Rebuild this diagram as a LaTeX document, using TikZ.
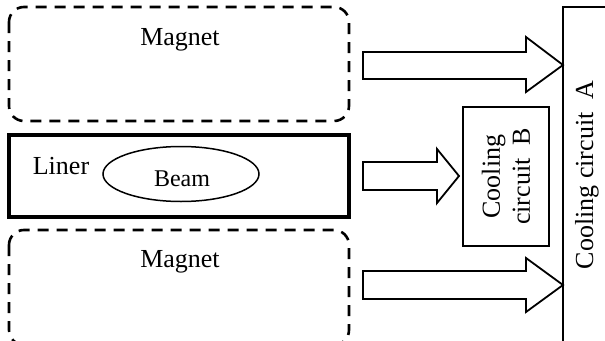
\documentclass[tikz,border=0pt]{standalone}
\usepackage{fontspec}
\setmainfont{Liberation Serif}
\usetikzlibrary{calc,shapes.geometric}
\tikzset{
  magnetbox/.style={draw, line width=2.6pt, dash pattern=on 11pt off 8pt, rounded corners=15pt},
  linerbox/.style={draw, line width=4pt},
  thinbox/.style={draw, line width=1.8pt},
  fatarrow/.style={draw, line width=1.8pt, fill=white, line join=miter},
  lbl/.style={font=\fontsize{26}{30}\selectfont, inner sep=0pt},
}
\begin{document}
\begin{tikzpicture}[x=1pt,y=-1pt]
\useasboundingbox (0,0) rectangle (605,340);
\clip (0,0) rectangle (605,340);
% magnets and liner
\draw[magnetbox] (9,7) rectangle (349,121);
\node[lbl] (magTop) at (180,40) {Magnet};
\draw[linerbox] (9,135) rectangle (349,217);
\node[lbl, anchor=base] (liner) at (61,174) {Liner};
\node[draw, ellipse, line width=1.5pt, minimum width=156pt, minimum height=55pt, inner sep=0pt] (beamE) at (181,174) {};
\node[lbl, font=\fontsize{24}{28}\selectfont, anchor=base] (beam) at (182,186) {Beam};
\draw[magnetbox] (9,230) rectangle (349,345);
\node[lbl] (magBot) at (180,262) {Magnet};
% cooling circuits
\node[thinbox, minimum width=86pt, minimum height=139pt, inner sep=0pt] (coolB) at (506,176.5) {};
\node[lbl, rotate=90, align=center] at (coolB.center) {Cooling\\circuit\ \ B};
\draw[thinbox] (620,7) -- (563,7) -- (563,360);
\coordinate (coolA) at (563,175);
\node[lbl, rotate=90] at (587,175) {Cooling circuit\ \ A};
% fat arrows
\coordinate (t1) at (563,65);
\draw[fatarrow] (363,52) -- (526,52) -- (526,37) -- (t1) -- (526,92) -- (526,79) -- (363,79) -- cycle;
\coordinate (t2) at (459,176);
\draw[fatarrow] (363,162) -- (437,162) -- (437,149) -- (t2) -- (437,203) -- (437,190) -- (363,190) -- cycle;
\coordinate (t3) at (563,285);
\draw[fatarrow] (363,271) -- (526,271) -- (526,258) -- (t3) -- (526,312) -- (526,299) -- (363,299) -- cycle;
\end{tikzpicture}
\end{document}
